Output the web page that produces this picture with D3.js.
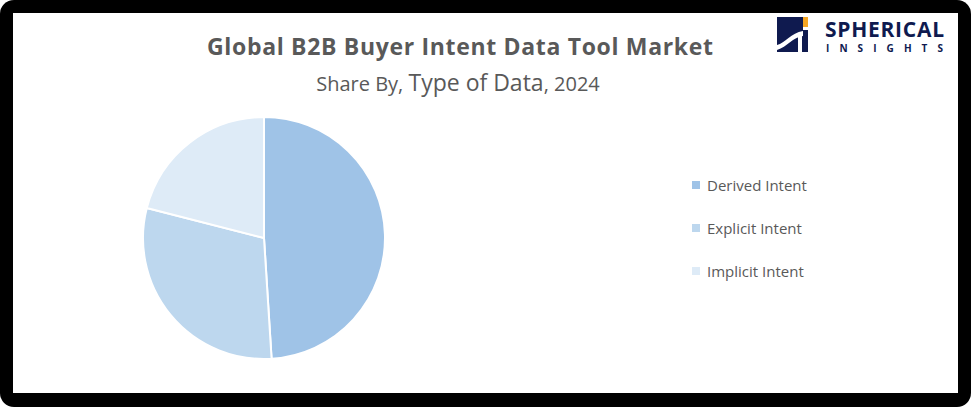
<!DOCTYPE html>
<html>
<head>
<meta charset="utf-8">
<script src="https://cdn.jsdelivr.net/npm/d3@7"></script>
<style>
  body { margin: 0; background: #fff; }
  text { font-family: "Open Sans", "Noto Sans", sans-serif; }
</style>
</head>
<body>
<svg id="chart"></svg>
<script>
// market share by type of data, 2024
var categories = ["Derived Intent", "Explicit Intent", "Implicit Intent"];
var shares = [49, 30, 21];
var colors = ["#9fc3e7", "#bdd7ee", "#deebf7"];

var width = 971, height = 407;
var svg = d3.select("#chart").attr("width", width).attr("height", height);

// black frame with white panel
svg.append("rect").attr("width", width).attr("height", height)
    .attr("rx", 14).attr("fill", "#000");
svg.append("rect").attr("x", 13).attr("y", 13)
    .attr("width", width - 26).attr("height", height - 27)
    .attr("fill", "#fff");

svg.append("text").attr("x", 460).attr("y", 55)
    .attr("text-anchor", "middle").attr("font-size", 23).attr("font-weight", "bold")
    .attr("fill", "#595959").attr("textLength", 506)
    .text("Global B2B Buyer Intent Data Tool Market");
svg.append("text").attr("x", 458).attr("y", 91)
    .attr("text-anchor", "middle").attr("fill", "#595959")
    .html('<tspan font-size="20">Share By, </tspan><tspan font-size="23">Type of Data</tspan><tspan font-size="20">, 2024</tspan>');

// pie
var pie = d3.pie().sort(null).value(function (d) { return d; });
var arc = d3.arc().innerRadius(0).outerRadius(121);
var pieG = svg.append("g").attr("transform", "translate(264,238)");
pieG.selectAll("path")
    .data(pie(shares))
    .enter().append("path")
    .attr("d", arc)
    .attr("fill", function (d, i) { return colors[i]; })
    .attr("stroke", "#fff")
    .attr("stroke-width", 2);

// legend
var legendY = d3.scalePoint().domain(categories).range([185, 271]);
var legend = svg.append("g").selectAll("g")
    .data(categories)
    .enter().append("g")
    .attr("transform", function (d) { return "translate(692," + legendY(d) + ")"; });
legend.append("rect").attr("x", 0).attr("y", -4).attr("width", 8).attr("height", 8)
    .attr("fill", function (d, i) { return colors[i]; });
legend.append("text").attr("x", 15).attr("y", 6)
    .attr("font-size", 15).attr("fill", "#595959")
    .text(function (d) { return d; });

// logo
var logo = svg.append("g").attr("transform", "translate(777,17)");
logo.append("rect").attr("width", 26).attr("height", 35).attr("fill", "#0f1a4f");
logo.append("path").attr("d", "M0,28 C8,26 14,16 26,14 L26,19 C16,20 10,30 0,33 Z").attr("fill", "#fff");
logo.append("rect").attr("x", 21).attr("y", 18).attr("width", 4).attr("height", 17).attr("fill", "#fff");
logo.append("rect").attr("x", 26).attr("y", 0).attr("width", 5).attr("height", 10).attr("fill", "#f5a623");
logo.append("rect").attr("x", 26).attr("y", 13).attr("width", 5).attr("height", 22).attr("fill", "#0f1a4f");
logo.append("text").attr("x", 48).attr("y", 20)
    .attr("font-family", "'Liberation Sans', sans-serif").attr("font-weight", "bold")
    .attr("font-size", 21).attr("fill", "#0f1a4f").attr("textLength", 119)
    .text("SPHERICAL");
logo.append("text").attr("x", 49).attr("y", 35)
    .attr("font-family", "'Liberation Sans', sans-serif").attr("font-weight", "bold")
    .attr("font-size", 10).attr("fill", "#0f1a4f").attr("textLength", 117)
    .text("INSIGHTS");
</script>
</body>
</html>
